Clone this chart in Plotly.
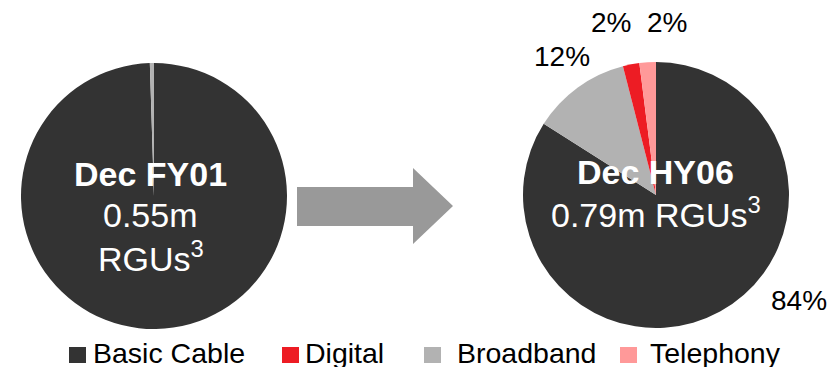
import plotly.graph_objects as go

# ---- data ----
categories = ["Basic Cable", "Digital", "Broadband", "Telephony"]
colors = ["#333333", "#ED1C24", "#B2B2B2", "#FF9999"]
slice_order = ["Basic Cable", "Broadband", "Digital", "Telephony"]
fy01_values = {"Basic Cable": 99.5, "Broadband": 0.5, "Digital": 0.0, "Telephony": 0.0}
hy06_values = {"Basic Cable": 84, "Broadband": 12, "Digital": 2, "Telephony": 2}
fy01_lines = ["<b>Dec FY01</b>", "0.55m", "RGUs<sup>3</sup>"]
hy06_lines = ["<b>Dec HY06</b>", "0.79m RGUs<sup>3</sup>"]

# ---- layout helpers (pixel positions, styles) ----
W, H = 839, 367
FONT = "Liberation Sans, Arial, sans-serif"
color_of = dict(zip(categories, colors))

def dom(cx, cy, r):
    return dict(x=[(cx - r) / W, (cx + r) / W], y=[1 - (cy + r) / H, 1 - (cy - r) / H])

fig = go.Figure()
for vals, (cx, cy) in [(fy01_values, (154, 196)), (hy06_values, (656, 195))]:
    fig.add_trace(go.Pie(
        labels=slice_order,
        values=[vals[c] for c in slice_order],
        marker=dict(colors=[color_of[c] for c in slice_order], line=dict(width=0)),
        sort=False, direction="clockwise", rotation=0,
        textinfo="none", hoverinfo="label+percent", showlegend=False,
        domain=dom(cx, cy, 133),
    ))

ann = []
# center texts
for txt, (x, y) in zip(fy01_lines, [(150, 174), (150, 215), (151, 256)]):
    ann.append(dict(x=x, y=y, text=txt, font=dict(size=34, color="white", family=FONT)))
for txt, (x, y) in zip(hy06_lines, [(655, 172), (656, 212)]):
    ann.append(dict(x=x, y=y, text=txt, font=dict(size=34, color="white", family=FONT)))

# outside percentage labels for HY06
tot = sum(hy06_values.values())
label_pos = {"Basic Cable": (799, 300), "Broadband": (562, 56), "Digital": (611, 22), "Telephony": (667, 22)}
for c in slice_order:
    x, y = label_pos[c]
    ann.append(dict(x=x, y=y, text=f"{round(100 * hy06_values[c] / tot)}%",
                    font=dict(size=28, color="black", family=FONT)))

# manual legend
shapes = []
leg_sq = [69, 282, 424, 620]
leg_tx = [91, 303, 455, 648]
for c, sx, tx in zip(categories, leg_sq, leg_tx):
    shapes.append(dict(type="rect", xref="x", yref="y", x0=sx, x1=sx + 17, y0=347, y1=363,
                       fillcolor=color_of[c], line=dict(width=0)))
    ann.append(dict(x=tx, y=353, text=c, xanchor="left",
                    font=dict(size=28.5, color="black", family=FONT)))

# arrow
shapes.append(dict(type="path", xref="x", yref="y",
                   path="M297,187 L413,187 L413,168 L453,206 L413,244 L413,226 L297,226 Z",
                   fillcolor="#999999", line=dict(width=0)))

for a in ann:
    a.setdefault("xanchor", "center")
    a.update(xref="x", yref="y", yanchor="middle", showarrow=False)

fig.update_layout(
    width=W, height=H, margin=dict(l=0, r=0, t=0, b=0),
    paper_bgcolor="white", plot_bgcolor="rgba(0,0,0,0)",
    xaxis=dict(range=[0, W], visible=False, fixedrange=True),
    yaxis=dict(range=[H, 0], visible=False, fixedrange=True),
    annotations=ann, shapes=shapes, showlegend=False,
)
fig.write_html("out.html")
